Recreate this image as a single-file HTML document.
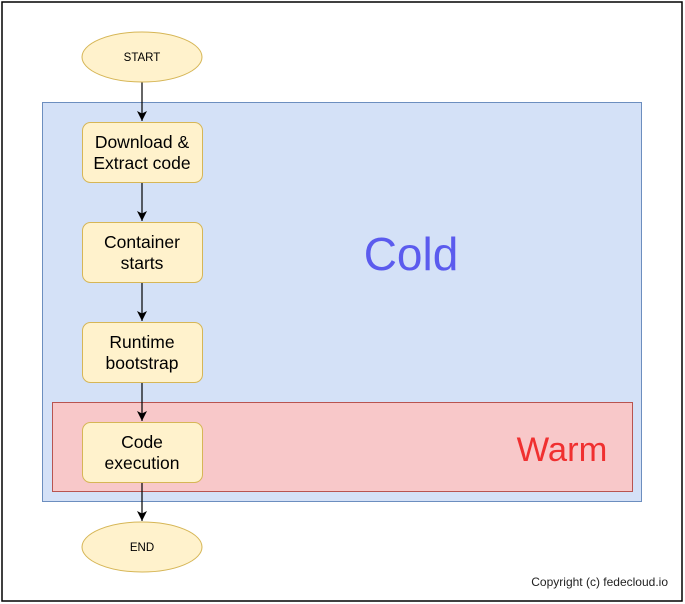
<!DOCTYPE html>
<html><head><meta charset="utf-8"><style>
html,body{margin:0;padding:0;background:#fff;}
svg{display:block;font-family:"Liberation Sans",Helvetica,Arial,sans-serif;}
</style></head><body>
<svg width="685" height="604" viewBox="0 0 685 604" xmlns="http://www.w3.org/2000/svg">
<defs><marker id="a" markerWidth="12" markerHeight="12" refX="10" refY="6" orient="auto" markerUnits="userSpaceOnUse"><path d="M0,1 L10,6 L0,11 L2.5,6 Z" fill="#000"/></marker></defs>
<rect x="2" y="2" width="680" height="599" fill="#fff" stroke="#000" stroke-width="1.5"/>
<rect x="42.5" y="102.5" width="599" height="399" fill="#d4e1f7" stroke="#6c8ebf"/>
<rect x="52.5" y="402.5" width="580" height="89" fill="#f8c8c9" stroke="#b85450"/>
<text x="411" y="270" font-size="46" fill="#5b5bee" text-anchor="middle">Cold</text>
<text x="562" y="461" font-size="34.5" fill="#f03030" text-anchor="middle">Warm</text>
<g stroke="#000" stroke-width="1.2" fill="none" marker-end="url(#a)">
<line x1="142" y1="82" x2="142" y2="121"/>
<line x1="142" y1="182" x2="142" y2="221"/>
<line x1="142" y1="282" x2="142" y2="321"/>
<line x1="142" y1="382" x2="142" y2="421"/>
<line x1="142" y1="482" x2="142" y2="521"/>
</g>
<g fill="#fff2cc" stroke="#d6b656">
<ellipse cx="142" cy="57" rx="60" ry="25"/>
<ellipse cx="142" cy="547" rx="60" ry="25"/>
<rect x="82.5" y="122.5" width="120" height="60" rx="8"/>
<rect x="82.5" y="222.5" width="120" height="60" rx="8"/>
<rect x="82.5" y="322.5" width="120" height="60" rx="8"/>
<rect x="82.5" y="422.5" width="120" height="60" rx="8"/>
</g>
<g font-size="17.5" fill="#000" text-anchor="middle">
<text x="142" y="61" font-size="11.5">START</text>
<text x="142" y="551" font-size="11.5">END</text>
<text x="142" y="148">Download &amp;</text><text x="142" y="169">Extract code</text>
<text x="142" y="248">Container</text><text x="142" y="269">starts</text>
<text x="142" y="348">Runtime</text><text x="142" y="369">bootstrap</text>
<text x="142" y="448">Code</text><text x="142" y="469">execution</text>
</g>
<text x="668" y="586" font-size="12" fill="#222" text-anchor="end">Copyright (c) fedecloud.io</text>
</svg>
</body></html>
